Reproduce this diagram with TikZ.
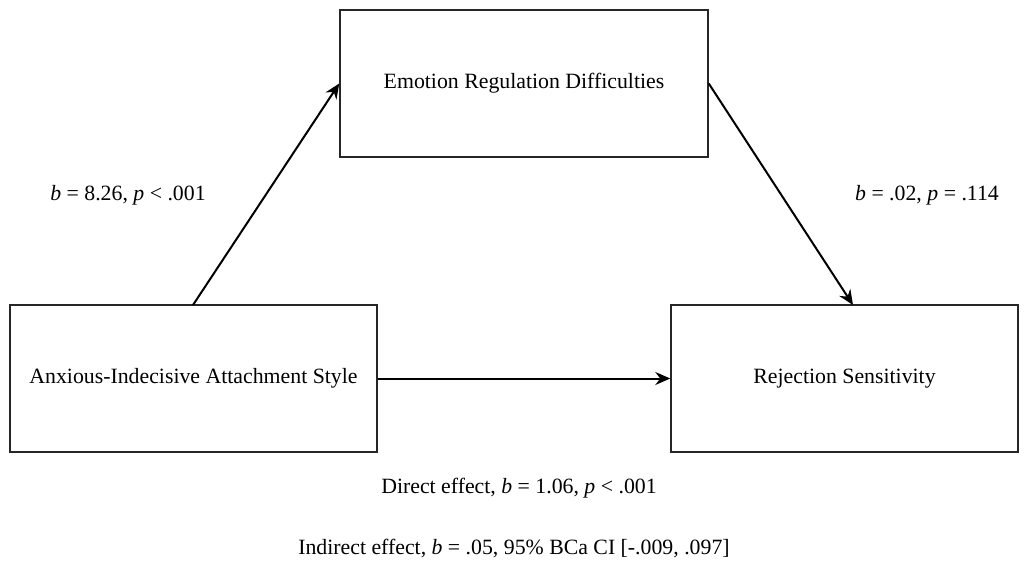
\documentclass[tikz,border=0pt]{standalone}
\usepackage{fontspec}
\setmainfont{Liberation Serif}
\usetikzlibrary{arrows.meta}
\begin{document}
\begin{tikzpicture}[x=1pt,y=-1pt,
  box/.style={draw=black!85,line width=1.5pt,minimum width=#1,minimum height=147pt,inner sep=0pt,font=\fontsize{21.8}{25}\selectfont},
  conn/.style={draw=black,line width=2pt,-{Stealth[length=15pt,width=13pt,inset=5pt]}},
  lbl/.style={font=\fontsize{21.8}{25}\selectfont,inner sep=0pt}]
\useasboundingbox[fill=white] (0,0) rectangle (1028,562);
\node[box=368pt,text depth=0pt,text height=10pt] (erd) at (524,83.5) {Emotion Regulation Difficulties};
\node[box=367pt] (aas) at (193.5,378.5) {Anxious-Indecisive Attachment Style};
\node[box=347pt] (rs) at (844.5,378.5) {Rejection Sensitivity};
\coordinate (a1) at (193,305);
\coordinate (r1) at (853,305);
\draw[conn] (a1) -- (erd.west);
\draw[conn] (erd.east) -- (r1);
\draw[conn] (aas.east) -- (rs.west);
\node[lbl] (l1) at (128,195) {\textit{b} = 8.26, \textit{p} < .001};
\node[lbl] (l2) at (927,195) {\textit{b} = .02, \textit{p} = .114};
\node[lbl] (l3) at (519,488) {Direct effect, \textit{b} = 1.06, \textit{p} < .001};
\node[lbl] (l4) at (514,548) {Indirect effect, \textit{b} = .05, 95\% BCa CI [-.009, .097]};
\end{tikzpicture}
\end{document}
